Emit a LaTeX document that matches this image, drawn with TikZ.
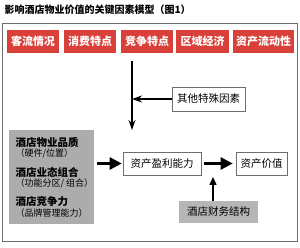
\documentclass[tikz,border=0pt]{standalone}
\usepackage{fontspec}
\usepackage{xcolor}
\usetikzlibrary{positioning, arrows.meta}
\newfontfamily\cjk{Noto Sans CJK SC}
\definecolor{facRed}{RGB}{217, 64, 58}
\definecolor{boxGray}{RGB}{172, 172, 172}
\definecolor{finGray}{RGB}{182, 182, 182}
\definecolor{lineGray}{RGB}{110, 110, 110}

\begin{document}
\begin{tikzpicture}[
    x=1pt, y=-1pt,
    font=\cjk\fontsize{10.5}{12}\selectfont,
    factor/.style={rectangle, fill=facRed, text=white, font=\cjk\bfseries\fontsize{11}{12}\selectfont, minimum height=23pt, inner sep=0pt},
    plain/.style={rectangle, draw=lineGray, fill=white, line width=0.6pt, minimum height=23pt, inner sep=0pt},
    grayq/.style={anchor=west, font=\cjk\bfseries\fontsize{10.5}{12}\selectfont},
    grayn/.style={anchor=west, font=\cjk\fontsize{9}{10}\selectfont},
    arr/.style={-{Stealth[length=10pt, width=7pt]}, line width=1.1pt, black},
    bigarr/.style={-{Triangle[length=12pt, width=12pt]}, line width=2.6pt, black},
    uparr/.style={-{Triangle[length=8pt, width=7pt]}, line width=1.5pt, black}
]
\useasboundingbox (0,0) rectangle (300,248);
\draw[lineGray, line width=0.7pt] (2,23) rectangle (297,241);

\node[anchor=west, font=\cjk\bfseries\fontsize{10}{12}\selectfont] (title) at (1,10) {影响酒店物业价值的关键因素模型（图1）};

% top row of factors
\node[factor, minimum width=52pt] (flow)   at (33,41.5)    {客流情况};
\node[factor, minimum width=52pt] (spend)  at (90,41.5)    {消费特点};
\node[factor, minimum width=52pt] (comp)   at (147,41.5)   {竞争特点};
\node[factor, minimum width=53pt] (region) at (202.5,41.5) {区域经济};
\node[factor, minimum width=61pt] (liquid) at (263.5,41.5) {资产流动性};

\node[plain, minimum width=73pt, minimum height=24pt] (other) at (208.5,99) {其他特殊因素};

% hotel side
\node[rectangle, fill=boxGray, minimum width=85pt, minimum height=94pt] (hotel) at (51.5,177) {};
\node[grayq] (q1) at (12,142) {酒店物业品质};
\node[grayn] (n1) at (12,153) {（硬件/位置）};
\node[grayq] (q2) at (12,172) {酒店业态组合};
\node[grayn] (n2) at (12,183) {（功能分区/ 组合）};
\node[grayq] (q3) at (12,202) {酒店竞争力};
\node[grayn] (n3) at (12,213) {（品牌管理能力）};

\node[plain, minimum width=78pt] (profit) at (162,163.5) {资产盈利能力};
\node[plain, minimum width=51pt] (value)  at (261.5,163.5) {资产价值};
\node[rectangle, fill=finGray, minimum width=79pt, minimum height=22pt] (finance) at (218.5,212) {酒店财务结构};

\coordinate (vtop) at (132,61);
\coordinate (vend) at (132,130);
\coordinate (vmid) at (132,99);
\coordinate (fintip) at (213,177);

\draw[arr] (vtop) -- (vend);
\draw[arr] (other.west) -- (vmid);
\draw[bigarr, shorten <=3pt, shorten >=1pt] (hotel.east |- profit.west) -- (profit.west);
\draw[bigarr, shorten <=3pt, shorten >=3pt] (profit.east) -- (value.west);
\draw[uparr] (finance.north -| fintip) -- (fintip);
\end{tikzpicture}
\end{document}
